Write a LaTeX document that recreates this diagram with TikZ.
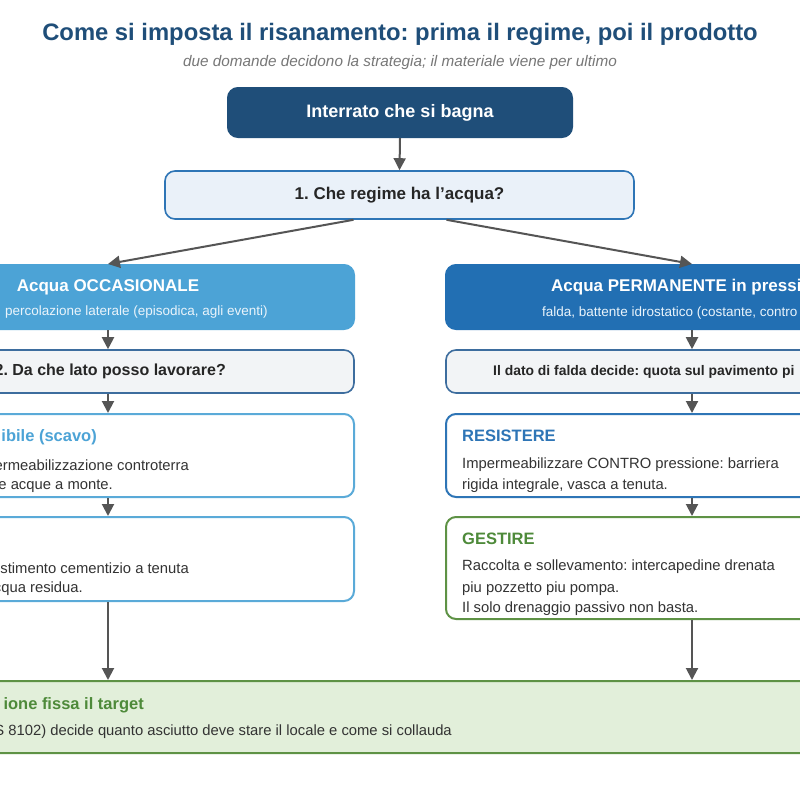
\documentclass[tikz,border=0pt]{standalone}
\usepackage{fontspec}
\setmainfont{Liberation Sans}
\usetikzlibrary{arrows.meta,calc}
\definecolor{navy}{HTML}{1F4E79}
\definecolor{subgray}{HTML}{777777}
\definecolor{qfill}{HTML}{EAF1F9}
\definecolor{qborder}{HTML}{2E75B6}
\definecolor{occfill}{HTML}{4CA3D6}
\definecolor{permfill}{HTML}{226FB3}
\definecolor{q2fill}{HTML}{F2F4F6}
\definecolor{q2border}{HTML}{3D6D9E}
\definecolor{ltblue}{HTML}{5AAAD8}
\definecolor{midblue}{HTML}{2E75B6}
\definecolor{grn}{HTML}{5E9245}
\definecolor{grntxt}{HTML}{4E8A3A}
\definecolor{grnfill}{HTML}{E2EFDA}
\definecolor{arrgray}{HTML}{555555}
\definecolor{bodytxt}{HTML}{333333}
\definecolor{occsub}{HTML}{EAF4FB}
\frenchspacing
\begin{document}
\begin{tikzpicture}[x=1pt,y=-1pt,
  box/.style={draw, rounded corners=10pt, line width=2pt, inner sep=0pt, anchor=center},
  arr/.style={draw=arrgray, line width=2pt, -{Triangle[length=12pt,width=12pt]}},
  bigb/.style={font=\fontsize{17}{20}\selectfont\bfseries},
  qtxt/.style={font=\fontsize{16}{20}\selectfont\bfseries, text=black!85},
  head/.style={font=\fontsize{16.5}{20}\selectfont\bfseries, anchor=west, inner sep=0pt},
  headl/.style={font=\fontsize{16.5}{20}\selectfont\bfseries, anchor=east, inner sep=0pt},
  body/.style={font=\fontsize{14.8}{21}\selectfont, text=bodytxt, anchor=west, inner sep=0pt},
  bodyl/.style={font=\fontsize{14.8}{21}\selectfont, text=bodytxt, anchor=east, inner sep=0pt},
  insub/.style={font=\fontsize{13.5}{16}\selectfont, text=occsub, inner sep=0pt}
]
\useasboundingbox (0,0) rectangle (800,800);
\clip (0,0) rectangle (800,800);
\fill[white] (0,0) rectangle (800,800);

% title
\node[font=\fontsize{23.8}{28}\selectfont\bfseries, text=navy] (title) at (400,34) {Come si imposta il risanamento: prima il regime, poi il prodotto};
\node[font=\fontsize{15.3}{18}\selectfont\itshape, text=subgray] (subtitle) at (400,63) {due domande decidono la strategia; il materiale viene per ultimo};

% top
\node[box, fill=navy, draw=navy, minimum width=344pt, minimum height=49pt, text=white, font=\fontsize{18}{20}\selectfont\bfseries] (top) at (400,112.5) {Interrato che si bagna};
\node[box, fill=qfill, draw=qborder, line width=1.6pt, minimum width=469pt, minimum height=48pt, font=\fontsize{17}{20}\selectfont\bfseries, text=black!85] (q1) at (399.5,195) {1. Che regime ha l\char"27 acqua?};

% regime boxes
\node[box, fill=occfill, draw=occfill, minimum width=492pt, minimum height=64pt] (occ) at (108,297) {};
\node[box, fill=permfill, draw=permfill, minimum width=492pt, minimum height=64pt] (perm) at (692,297) {};
\node[bigb, text=white] (occt) at (108,287) {Acqua OCCASIONALE};
\node[insub, anchor=east] (occs) at (268,312) {percolazione laterale (episodica, agli eventi)};
\node[bigb, text=white, anchor=west, inner sep=0pt] (permt) at (551,287) {Acqua PERMANENTE in pressi};
\node[insub, anchor=west] (perms) at (542,313) {falda, battente idrostatico (costante, contro};

% question 2 boxes
\node[box, fill=q2fill, draw=q2border, line width=1.6pt, minimum width=492pt, minimum height=43pt] (q2l) at (108,371.5) {};
\node[box, fill=q2fill, draw=q2border, line width=1.6pt, minimum width=492pt, minimum height=43pt] (q2r) at (692,371.5) {};
\node[qtxt, anchor=east, inner sep=0pt] (q2lt) at (226,371.5) {2. Da che lato posso lavorare?};
\node[font=\fontsize{13.9}{20}\selectfont\bfseries, text=black!85, anchor=west, inner sep=0pt] (q2rt) at (493,372) {Il dato di falda decide: quota sul pavimento pi};

% row 3
\node[box, fill=white, draw=ltblue, minimum width=492pt, minimum height=83pt] (r3l) at (108,455.5) {};
\node[box, fill=white, draw=midblue, minimum width=492pt, minimum height=83pt] (r3r) at (692,455.5) {};
\node[headl, text=occfill] (r3lt) at (97,437) {ibile (scavo)};
\node[bodyl] (r3la) at (189,465) {ermeabilizzazione controterra};
\node[bodyl] (r3lb) at (113,486) {e acque a monte.};
\node[head, text=midblue] (r3rt) at (462,436) {RESISTERE};
\node[body] (r3ra) at (462,465) {Impermeabilizzare CONTRO pressione: barriera};
\node[body] (r3rb) at (462,486) {rigida integrale, vasca a tenuta.};

% row 4
\node[box, fill=white, draw=ltblue, minimum width=492pt, minimum height=84pt] (r4l) at (108,559) {};
\node[box, fill=white, draw=grn, minimum width=492pt, minimum height=102pt] (r4r) at (692,568) {};
\node[bodyl] (r4la) at (189,568) {stimento cementizio a tenuta};
\node[bodyl] (r4lb) at (83,589) {cqua residua.};
\node[head, text=grntxt] (r4rt) at (462,539) {GESTIRE};
\node[body] (r4ra) at (462,567) {Raccolta e sollevamento: intercapedine drenata};
\node[body] (r4rb) at (462,589) {piu pozzetto piu pompa.};
\node[body] (r4rc) at (462,609) {Il solo drenaggio passivo non basta.};

% bottom
\node[box, fill=grnfill, draw=grn, minimum width=1077pt, minimum height=72pt] (bot) at (400.5,717) {};
\node[headl, text=grntxt] (bott) at (144,705) {ione fissa il target};
\node[bodyl] (botx) at (452,732) {S 8102) decide quanto asciutto deve stare il locale e come si collauda};

% arrows
\draw[arr] (top.south) -- (q1.north);
\draw[arr] ([xshift=-46pt]q1.south) -- (occ.north);
\draw[arr] ([xshift=47pt]q1.south) -- (perm.north);
\draw[arr] (occ.south) -- (q2l.north);
\draw[arr] (perm.south) -- (q2r.north);
\draw[arr] (q2l.south) -- (r3l.north);
\draw[arr] (q2r.south) -- (r3r.north);
\draw[arr] (r3l.south) -- (r4l.north);
\draw[arr] (r3r.south) -- (r4r.north);
\draw[arr] (r4l.south) -- (r4l.south |- bot.north);
\draw[arr] (r4r.south) -- (r4r.south |- bot.north);
\end{tikzpicture}
\end{document}
